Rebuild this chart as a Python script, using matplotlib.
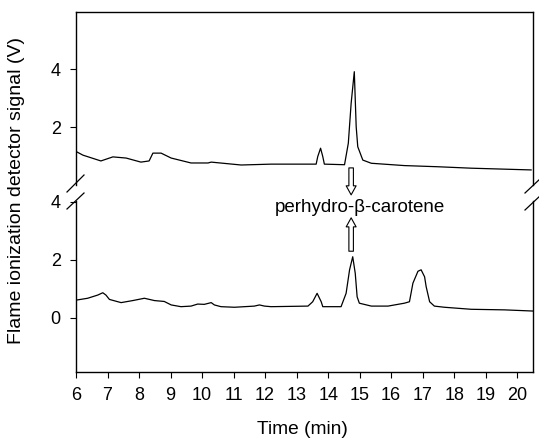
import matplotlib

matplotlib.use("Agg")
import matplotlib.pyplot as plt  # noqa: E402
from matplotlib.lines import Line2D  # noqa: E402

plt.rcParams["font.family"] = ["Liberation Sans", "DejaVu Sans"]
plt.rcParams["font.size"] = 13

# upper chromatogram (time min, signal V)
top_t = [6.03, 6.22, 6.79, 7.17, 7.59, 8.06, 8.32, 8.44, 8.70, 9.02, 9.65, 10.19,
         10.29, 11.24, 12.19, 13.62, 13.67, 13.76, 13.83, 13.88, 14.52, 14.64, 14.73,
         14.83, 14.89, 14.94, 15.10, 15.37, 16.42, 17.48, 18.54, 20.44]
top_v = [1.14, 1.03, 0.83, 0.97, 0.93, 0.79, 0.83, 1.10, 1.10, 0.93, 0.76, 0.76,
         0.79, 0.69, 0.72, 0.72, 0.98, 1.27, 0.98, 0.72, 0.70, 1.44, 2.82,
         3.91, 2.01, 1.32, 0.86, 0.75, 0.67, 0.63, 0.58, 0.52]

# lower chromatogram
bot_t = [6.03, 6.37, 6.69, 6.85, 6.95, 7.06, 7.43, 7.80, 8.17, 8.49, 8.80, 9.02,
         9.33, 9.65, 9.86, 10.07, 10.29, 10.39, 10.60, 11.03, 11.66, 11.82, 11.98,
         12.19, 13.36, 13.51, 13.65, 13.78, 13.83, 14.41, 14.57, 14.68, 14.78, 14.86,
         14.92, 14.99, 15.37, 15.90, 16.42, 16.58, 16.69, 16.85, 16.95, 17.06, 17.11,
         17.22, 17.37, 17.69, 18.54, 19.60, 20.49]
bot_v = [0.62, 0.68, 0.79, 0.87, 0.79, 0.64, 0.53, 0.60, 0.68, 0.60, 0.57, 0.45,
         0.39, 0.41, 0.48, 0.47, 0.53, 0.45, 0.39, 0.37, 0.41, 0.45, 0.41,
         0.39, 0.41, 0.56, 0.85, 0.56, 0.39, 0.39, 0.85, 1.66, 2.11, 1.54,
         0.73, 0.51, 0.41, 0.41, 0.51, 0.56, 1.20, 1.61, 1.66, 1.42, 1.08,
         0.56, 0.41, 0.37, 0.30, 0.28, 0.24]

x_ticks = list(range(6, 21))
top_yticks = [2, 4]
bot_yticks = [0, 2, 4]
label = "perhydro-\u03b2-carotene"
peak_t = 14.73

W, H = 539, 438
fig = plt.figure(figsize=(W / 100, H / 100), dpi=100)
L, R = 76 / W, 533 / W
ax_top = fig.add_axes([L, 1 - 185 / H, R - L, (185 - 12) / H])
ax_bot = fig.add_axes([L, 1 - 372 / H, R - L, (372 - 201) / H])

for ax, t, v in [(ax_top, top_t, top_v), (ax_bot, bot_t, bot_v)]:
    ax.plot(t, v, color="black", lw=0.9)
    ax.set_xlim(6, 20.5)
    ax.tick_params(direction="out", length=4, width=0.8, color="black", pad=7)
    for s in ax.spines.values():
        s.set_linewidth(1.0)

ax_top.set_ylim(0, 5.97)
ax_top.set_yticks(top_yticks)
ax_top.spines["bottom"].set_visible(False)
ax_top.tick_params(axis="x", bottom=False, labelbottom=False)

ax_bot.set_ylim(-1.86, 4.03)
ax_bot.set_yticks(bot_yticks)
ax_bot.set_xticks(x_ticks)
ax_bot.spines["top"].set_visible(False)


def px(x, y):
    return x / W, 1 - y / H


# axis break slashes
for (x0, y0), (x1, y1) in [((67, 192), (84, 175)), ((67, 209), (84, 193)),
                           ((525, 193), (541, 178)), ((525, 210), (541, 195))]:
    a, b = px(x0, y0)
    c, d = px(x1, y1)
    fig.add_artist(Line2D([a, c], [b, d], color="black", lw=0.9,
                          transform=fig.transFigure))

arrow = dict(arrowstyle="simple,head_width=0.55,head_length=0.5,tail_width=0.25",
             fc="white", ec="black", lw=0.8, shrinkA=0, shrinkB=0)
ax_top.annotate("", xy=(peak_t, -0.34), xytext=(peak_t, 0.59),
                arrowprops=arrow, annotation_clip=False)
ax_bot.annotate("", xy=(peak_t, 3.45), xytext=(peak_t, 2.30),
                arrowprops=arrow, annotation_clip=False)

fig.text(*px(360, 207), label, ha="center", va="center", fontsize=13.5)
fig.text(*px(17, 191), "Flame ionization detector signal (V)", rotation=90,
         ha="center", va="center", fontsize=14)
fig.text(*px(302, 430), "Time (min)", ha="center", va="center", fontsize=13.8)

fig.savefig("out.png", dpi=100)
